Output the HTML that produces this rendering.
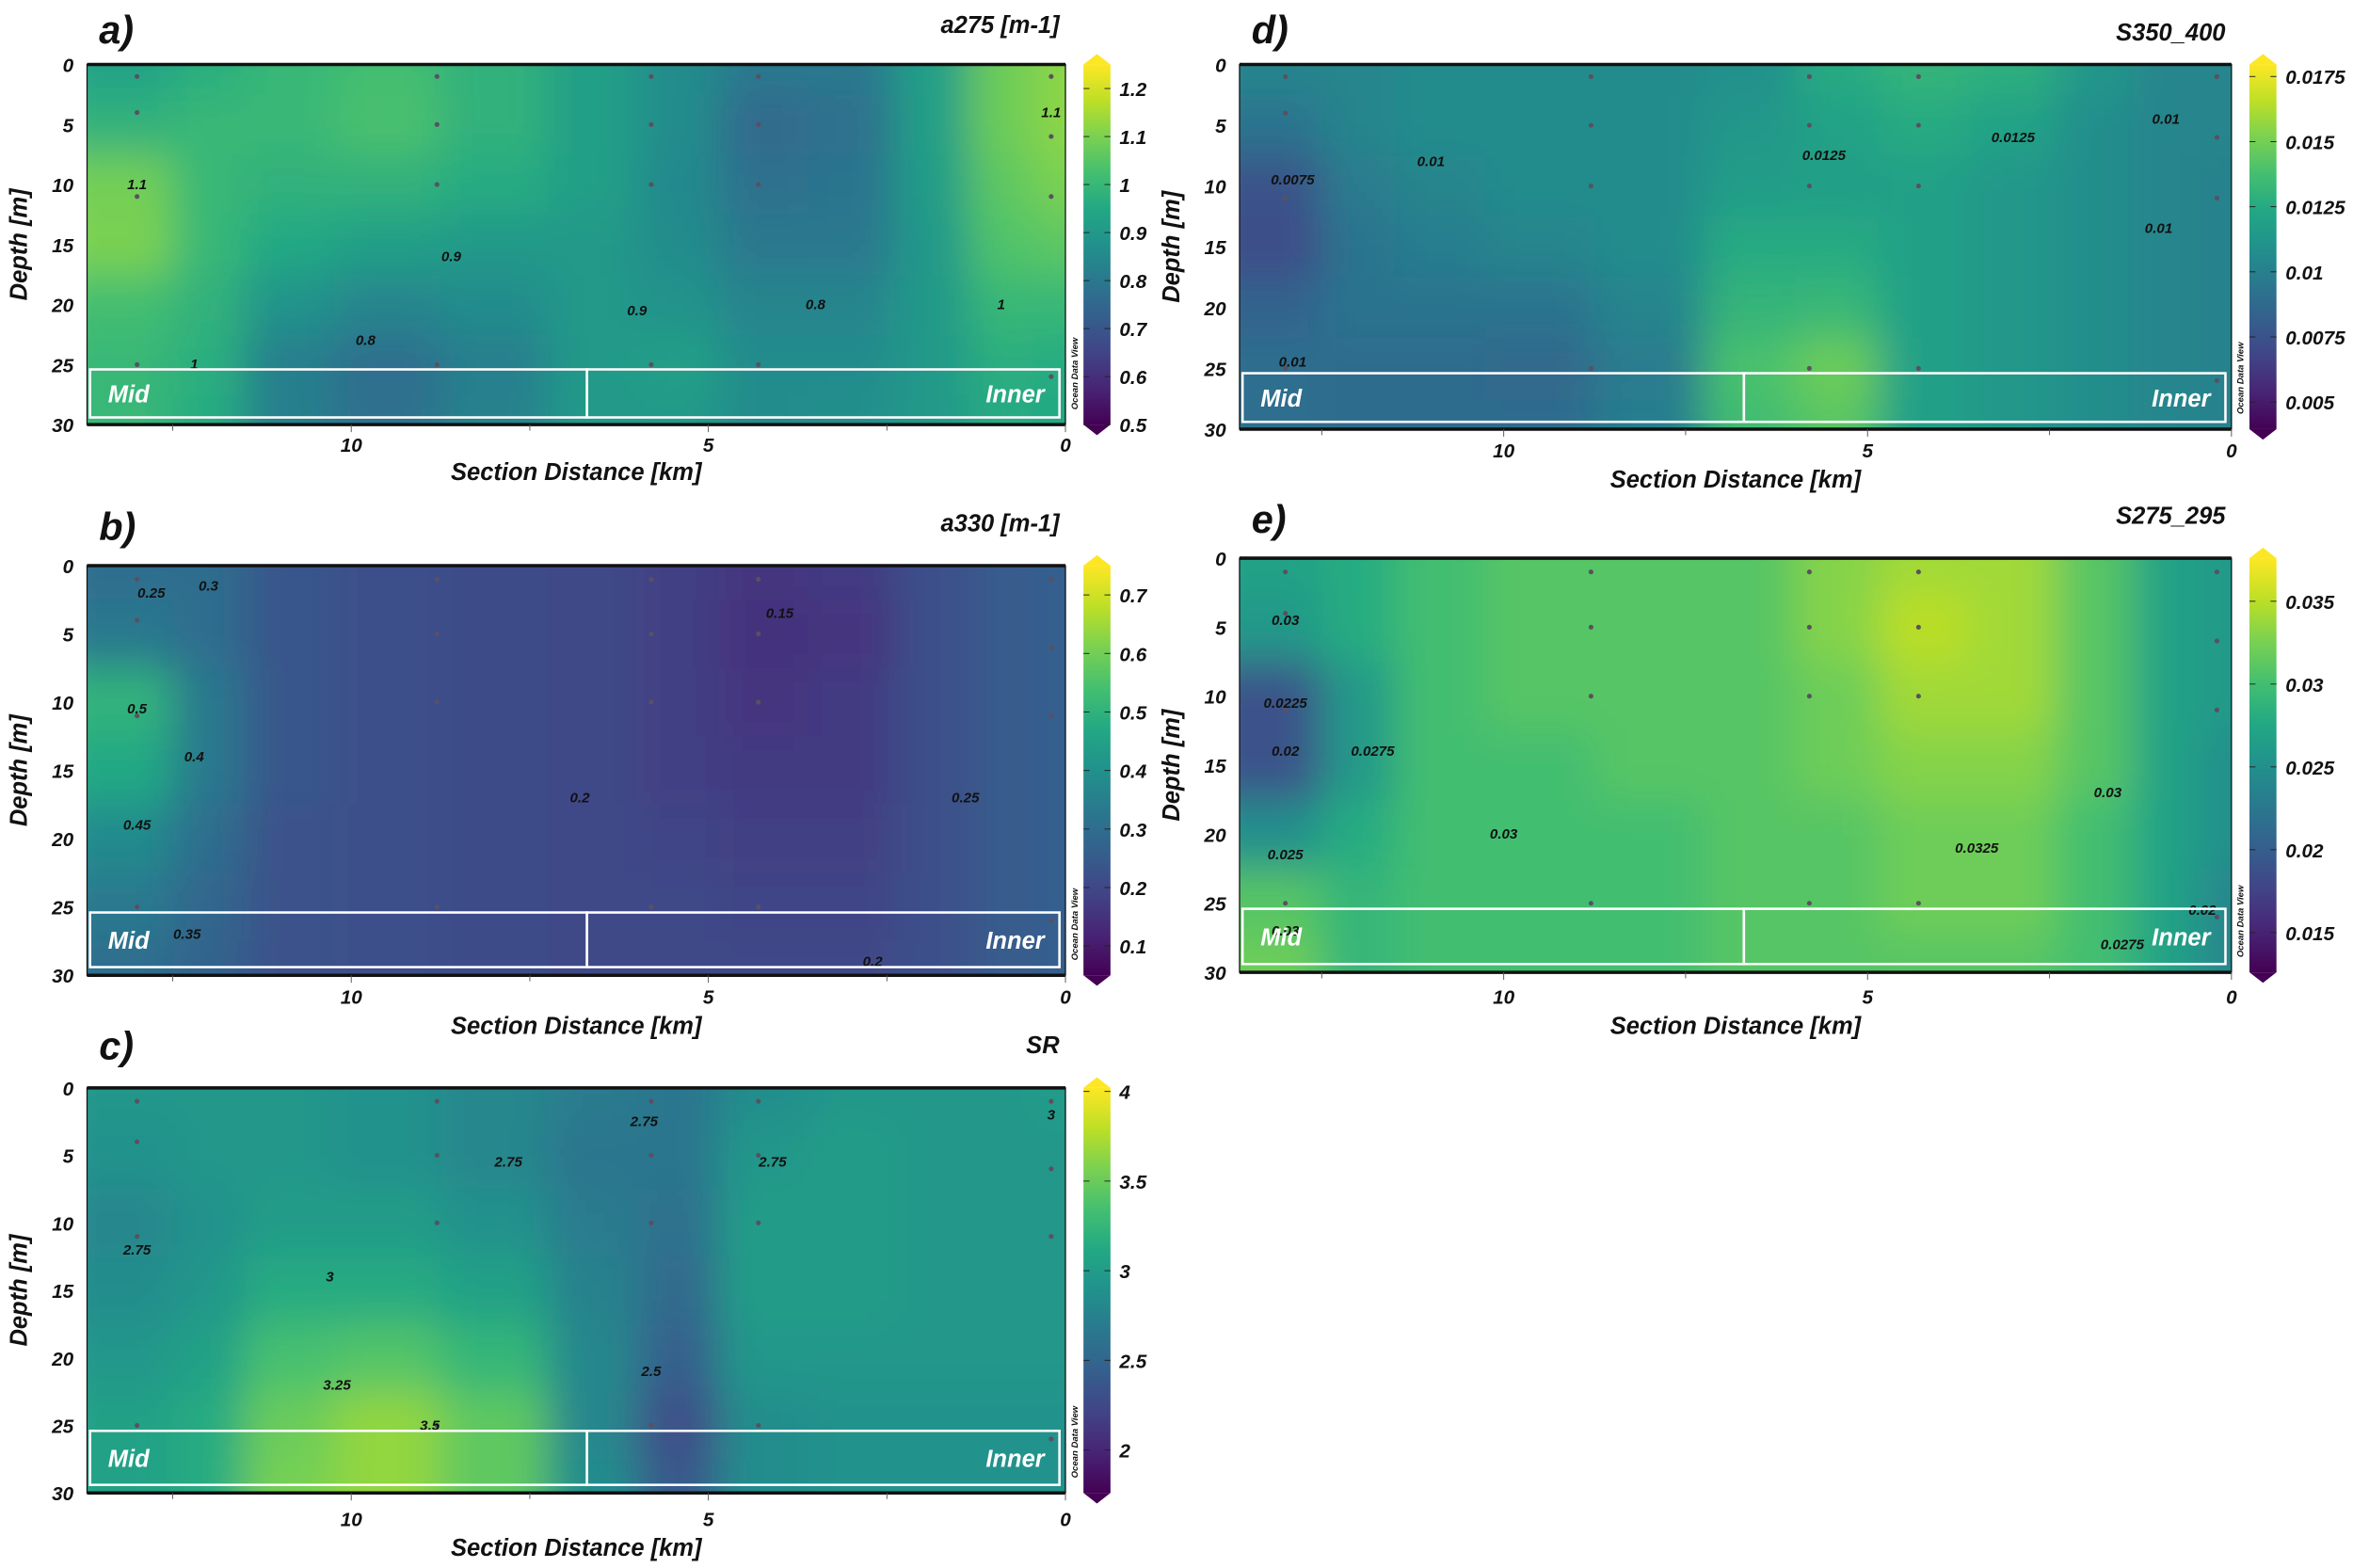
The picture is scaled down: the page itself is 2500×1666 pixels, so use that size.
<!DOCTYPE html>
<html><head><meta charset="utf-8">
<style>
html,body{margin:0;padding:0;background:#fff;}
svg{display:block;}
text{font-family:"Liberation Sans",sans-serif;font-weight:bold;font-style:italic;}
</style></head>
<body>
<svg id="fig" width="2500" height="1666" viewBox="0 0 1568 1045" preserveAspectRatio="none" xmlns="http://www.w3.org/2000/svg">
<defs>
<linearGradient id="vir" x1="0" y1="1" x2="0" y2="0">
<stop offset="0" stop-color="#440154"/><stop offset="0.1" stop-color="#482475"/><stop offset="0.2" stop-color="#414487"/><stop offset="0.3" stop-color="#355f8d"/><stop offset="0.4" stop-color="#2a788e"/><stop offset="0.5" stop-color="#21918c"/><stop offset="0.6" stop-color="#22a884"/><stop offset="0.7" stop-color="#44bf70"/><stop offset="0.8" stop-color="#7ad151"/><stop offset="0.9" stop-color="#bddf26"/><stop offset="1" stop-color="#fde725"/>
</linearGradient>
<filter id="blur" x="-10%" y="-10%" width="120%" height="120%"><feGaussianBlur stdDeviation="14"/></filter>
</defs>
</svg>
<script>
const colKm = [13.0, 12.0, 11, 9.5, 8, 6.5, 5.5, 4.2, 3, 1.8, 0.9, 0];
const rowDepth = [0, 5, 10, 15, 20, 25, 30];
const depthTicks = [0, 5, 10, 15, 20, 25, 30];
const kmTicks = [10, 5, 0];
const stationKm = [13.0, 8.8, 5.8, 4.3, 0.2];
const stationDepths = [[1,4,11,25],[1,5,10,25],[1,5,10,25],[1,5,10,25],[1,6,11,26]];

const valuesA = [
[0.93,0.97,1.0,1.02,0.98,0.92,0.86,0.80,0.80,0.92,1.08,1.12],
[0.98,1.0,1.0,1.03,0.98,0.92,0.86,0.76,0.78,0.92,1.08,1.12],
[1.09,1.0,0.98,0.98,0.96,0.92,0.85,0.78,0.79,0.91,1.06,1.1],
[1.1,1.0,0.95,0.92,0.9,0.9,0.86,0.80,0.80,0.9,1.04,1.06],
[1.02,0.98,0.88,0.84,0.86,0.9,0.88,0.84,0.84,0.9,1.0,1.0],
[1.0,0.97,0.82,0.77,0.82,0.9,0.92,0.86,0.86,0.9,0.97,0.96],
[1.0,0.96,0.82,0.78,0.83,0.9,0.9,0.86,0.87,0.9,0.96,0.95]];
const valuesB = [
[0.3,0.3,0.24,0.22,0.21,0.2,0.18,0.16,0.17,0.22,0.25,0.26],
[0.33,0.3,0.24,0.22,0.21,0.2,0.18,0.15,0.16,0.22,0.25,0.26],
[0.5,0.33,0.24,0.22,0.21,0.2,0.18,0.16,0.17,0.22,0.25,0.26],
[0.47,0.33,0.24,0.22,0.21,0.2,0.18,0.17,0.17,0.22,0.25,0.26],
[0.38,0.3,0.23,0.22,0.21,0.2,0.19,0.18,0.18,0.22,0.25,0.26],
[0.33,0.28,0.23,0.22,0.21,0.2,0.2,0.19,0.19,0.22,0.25,0.26],
[0.3,0.27,0.23,0.22,0.21,0.2,0.2,0.2,0.2,0.22,0.25,0.26]];
const valuesC = [
[2.95,2.95,2.95,2.9,2.8,2.7,2.65,2.85,2.95,2.95,2.95,3.0],
[2.9,2.95,2.95,2.9,2.8,2.65,2.65,2.95,3.0,2.95,2.95,2.95],
[2.8,2.9,3.0,3.0,2.9,2.7,2.6,3.0,3.0,2.95,2.95,2.95],
[2.85,2.95,3.15,3.15,3.05,2.75,2.55,3.0,3.0,2.95,2.95,2.95],
[2.95,3.05,3.35,3.4,3.25,2.8,2.45,2.95,2.95,2.95,2.95,2.95],
[3.05,3.15,3.5,3.65,3.45,2.8,2.3,2.85,2.9,2.9,2.9,2.9],
[3.05,3.15,3.55,3.65,3.45,2.85,2.4,2.85,2.9,2.9,2.9,2.9]];
const valuesD = [
[0.0103,0.0103,0.0107,0.0107,0.0107,0.0109,0.0125,0.0131,0.0128,0.0113,0.0103,0.0103],
[0.0093,0.0103,0.0107,0.0107,0.0107,0.0113,0.0120,0.0125,0.0120,0.0108,0.0103,0.0103],
[0.0075,0.0097,0.0103,0.0107,0.0107,0.0117,0.0118,0.0119,0.0113,0.0108,0.0103,0.0101],
[0.0073,0.0093,0.0099,0.0103,0.0107,0.0125,0.0125,0.0119,0.0113,0.0108,0.0103,0.0101],
[0.0084,0.0093,0.0093,0.0093,0.0103,0.0131,0.0133,0.0119,0.0113,0.0108,0.0103,0.0101],
[0.0090,0.0089,0.0089,0.0087,0.0097,0.0139,0.0148,0.0119,0.0113,0.0108,0.0103,0.0101],
[0.0090,0.0089,0.0089,0.0089,0.0099,0.0136,0.0143,0.0119,0.0113,0.0108,0.0103,0.0101]];
const valuesE = [
[0.027,0.028,0.03,0.031,0.031,0.031,0.033,0.034,0.034,0.031,0.027,0.026],
[0.026,0.028,0.03,0.031,0.031,0.031,0.033,0.035,0.034,0.031,0.027,0.026],
[0.019,0.026,0.03,0.031,0.031,0.031,0.032,0.034,0.034,0.031,0.027,0.026],
[0.019,0.026,0.03,0.03,0.031,0.031,0.032,0.033,0.033,0.031,0.027,0.025],
[0.025,0.028,0.03,0.03,0.03,0.031,0.031,0.032,0.032,0.03,0.027,0.025],
[0.031,0.029,0.03,0.03,0.03,0.031,0.031,0.032,0.032,0.03,0.027,0.024],
[0.032,0.029,0.03,0.03,0.03,0.031,0.031,0.031,0.031,0.03,0.027,0.024]];

const ticksA = ["1.2","1.1","1","0.9","0.8","0.7","0.6","0.5"];
const ticksB = ["0.7","0.6","0.5","0.4","0.3","0.2","0.1"];
const ticksC = ["4","3.5","3","2.5","2"];
const ticksD = ["0.0175","0.015","0.0125","0.01","0.0075","0.005"];
const ticksE = ["0.035","0.03","0.025","0.02","0.015"];

const labelsA = [["1.1",13.0,10],["1",12.2,25],["0.8",9.8,23],["0.9",8.6,16],["0.9",6.0,20.5],["0.8",3.5,20],["1",0.9,20],["1.1",0.2,4]];
const labelsB = [["0.25",12.8,2],["0.3",12.0,1.5],["0.5",13.0,10.5],["0.4",12.2,14],["0.45",13.0,19],["0.35",12.3,27],["0.15",4.0,3.5],["0.2",6.8,17],["0.2",2.7,29],["0.25",1.4,17]];
const labelsC = [["2.75",13.0,12],["2.75",7.8,5.5],["2.75",5.9,2.5],["2.75",4.1,5.5],["3",10.3,14],["3.25",10.2,22],["3.5",8.9,25],["2.5",5.8,21],["3",0.2,2]];
const labelsD = [["0.0075",12.9,9.5],["0.01",11.0,8],["0.01",12.9,24.5],["0.0125",5.6,7.5],["0.0125",3.0,6],["0.01",0.9,4.5],["0.01",1.0,13.5]];
const labelsE = [["0.03",13.0,4.5],["0.0225",13.0,10.5],["0.02",13.0,14],["0.025",13.0,21.5],["0.03",13.0,27],["0.0275",11.8,14],["0.03",10.0,20],["0.0325",3.5,21],["0.03",1.7,17],["0.0275",1.5,28],["0.02",0.4,25.5]];

const panels = [
 {key:'a',letter:'a)',title:'a275 [m-1]',vals:valuesA,ticks:ticksA,labels:labelsA,vmin:0.5,vmax:1.25,x0:58,x1:710,y0:43,y1:283,kmL:13.7,xtY:301,xlY:320,letY:29,titY:22},
 {key:'b',letter:'b)',title:'a330 [m-1]',vals:valuesB,ticks:ticksB,labels:labelsB,vmin:0.05,vmax:0.75,x0:58,x1:710,y0:377,y1:650,kmL:13.7,xtY:669,xlY:689,letY:360,titY:354},
 {key:'c',letter:'c)',title:'SR',vals:valuesC,ticks:ticksC,labels:labelsC,vmin:1.76,vmax:4.02,x0:58,x1:710,y0:725,y1:995,kmL:13.7,xtY:1017,xlY:1037,letY:706,titY:702},
 {key:'d',letter:'d)',title:'S350_400',vals:valuesD,ticks:ticksD,labels:labelsD,vmin:0.00396,vmax:0.01796,x0:826,x1:1487,y0:43,y1:286,kmL:13.63,xtY:305,xlY:325,letY:29,titY:27},
 {key:'e',letter:'e)',title:'S275_295',vals:valuesE,ticks:ticksE,labels:labelsE,vmin:0.0126,vmax:0.0376,x0:826,x1:1487,y0:372,y1:648,kmL:13.63,xtY:669,xlY:689,letY:355,titY:349}
];

const NS='http://www.w3.org/2000/svg';
const svg=document.getElementById('fig');
const V=[[0,'#440154'],[0.1,'#482475'],[0.2,'#414487'],[0.3,'#355f8d'],[0.4,'#2a788e'],[0.5,'#21918c'],[0.6,'#22a884'],[0.7,'#44bf70'],[0.8,'#7ad151'],[0.9,'#bddf26'],[1,'#fde725']];
function hex(h){return [1,3,5].map(i=>parseInt(h.substr(i,2),16));}
function viridis(t){t=Math.max(0,Math.min(1,t));for(let i=0;i<V.length-1;i++){if(t<=V[i+1][0]){const f=(t-V[i][0])/(V[i+1][0]-V[i][0]);const a=hex(V[i][1]),b=hex(V[i+1][1]);return 'rgb('+a.map((v,k)=>Math.round(v+(b[k]-v)*f)).join(',')+')';}}return V[10][1];}
function el(tag,attrs,parent){const e=document.createElementNS(NS,tag);for(const k in attrs)e.setAttribute(k,attrs[k]);(parent||svg).appendChild(e);return e;}
function txt(s,attrs,parent){const e=el('text',attrs,parent);e.textContent=s;return e;}

panels.forEach(p=>{
 const W=p.x1-p.x0,H=p.y1-p.y0;
 const xS=km=>p.x1-(km/p.kmL)*W;
 const yS=d=>p.y0+(d/30)*H;
 const cS=v=>(v-p.vmin)/(p.vmax-p.vmin);
 const g=el('g',{});
 
 
 const cp=el('clipPath',{id:'clip'+p.key},g);
 el('rect',{x:p.x0,y:p.y0,width:W,height:H},cp);
 const hm=el('g',{'clip-path':'url(#clip'+p.key+')'},g);
 
 
 const inner=el('g',{filter:'url(#blur)'},hm);
 const xs=colKm.map(xS), ys=rowDepth.map(yS);
 for(let r=0;r<rowDepth.length;r++){
  for(let c=0;c<colKm.length;c++){
   const left=c===0?xs[0]-60:(xs[c-1]+xs[c])/2;
   const right=c===colKm.length-1?xs[c]+40:(xs[c]+xs[c+1])/2;
   const top=r===0?ys[0]-40:(ys[r-1]+ys[r])/2;
   const bot=r===rowDepth.length-1?ys[r]+40:(ys[r]+ys[r+1])/2;
   const cell=el('rect',{x:left,y:top,width:right-left+0.5,height:bot-top+0.5,fill:viridis(cS(p.vals[r][c]))},inner);
   
   
  }
 }
 stationKm.forEach((k,i)=>stationDepths[i].forEach(d=>{
  const s=el('circle',{cx:xS(k),cy:yS(d),r:1.6,fill:'#5a5060'},g);
  
  
 }));
 p.labels.forEach(l=>{
  const t=txt(l[0],{x:xS(l[1]),y:yS(l[2])+3,'font-size':9.5,'text-anchor':'middle',fill:'#111'},g);
  
  
 });
 const bx0=p.x0+2,bx1=p.x1-4,by0=yS(25.4),by1=yS(29.4),bs=xS(6.7);
 const mid=el('rect',{x:bx0,y:by0,width:bs-bx0,height:by1-by0,fill:'none',stroke:'#fff','stroke-width':1.6},g);
 
 
 const inn=el('rect',{x:bs,y:by0,width:bx1-bs,height:by1-by0,fill:'none',stroke:'#fff','stroke-width':1.6},g);
 
 
 const tm=txt('Mid',{x:bx0+12,y:(by0+by1)/2+6,fill:'#fff','font-size':16},g);
 
 
 const ti=txt('Inner',{x:bx1-10,y:(by0+by1)/2+6,fill:'#fff','font-size':16,'text-anchor':'end'},g);
 
 
 const fr=el('rect',{x:p.x0,y:p.y0,width:W,height:H,fill:'none',stroke:'#111','stroke-width':0.8},g);
 
 
 el('line',{x1:p.x0,x2:p.x1,y1:p.y0,y2:p.y0,stroke:'#111','stroke-width':2.2},g);
 el('line',{x1:p.x0,x2:p.x1,y1:p.y1,y2:p.y1,stroke:'#111','stroke-width':2.2},g);
 depthTicks.forEach(d=>{
  const t=txt(String(d),{x:p.x0-9,y:yS(d)+5,'font-size':13,'text-anchor':'end',fill:'#111'},g);
  
  
 });
 [2.5,7.5,12.5].forEach(k=>el('line',{x1:xS(k),x2:xS(k),y1:p.y1,y2:p.y1+4,stroke:'#555','stroke-width':0.6},g));
 kmTicks.forEach(k=>{
  el('line',{x1:xS(k),x2:xS(k),y1:p.y1,y2:p.y1+5,stroke:'#555','stroke-width':0.6},g);
  const t=txt(String(k),{x:xS(k),y:p.xtY,'font-size':13,'text-anchor':'middle',fill:'#111'},g);
  
  
 });
 const xl=txt('Section Distance [km]',{x:(p.x0+p.x1)/2,y:p.xlY,'font-size':16,'text-anchor':'middle',fill:'#111'},g);
 
 
 const yx=p.x0-40,yy=(p.y0+p.y1)/2;
 const yl=txt('Depth [m]',{x:yx,y:yy,'font-size':16,'text-anchor':'middle',fill:'#111',transform:'rotate(-90 '+yx+' '+yy+')'},g);
 
 
 const lt=txt(p.letter,{x:p.x0+8,y:p.letY,'font-size':26,fill:'#111','font-style':'normal'},g);
 
 
 const tt=txt(p.title,{x:p.x1-4,y:p.titY,'font-size':16,'text-anchor':'end',fill:'#111'},g);
 
 
 const cx=p.x1+12,cw=18;
 const cb=el('g',{},g);
 
 
 el('rect',{x:cx,y:p.y0,width:cw,height:H,fill:'url(#vir)'},cb);
 el('polygon',{points:cx+','+p.y0+' '+(cx+cw/2)+','+(p.y0-7)+' '+(cx+cw)+','+p.y0,fill:'#fde725'},cb);
 el('polygon',{points:cx+','+p.y1+' '+(cx+cw/2)+','+(p.y1+7)+' '+(cx+cw)+','+p.y1,fill:'#440154'},cb);
 p.ticks.forEach(s=>{
  const v=parseFloat(s);
  const y=p.y1-cS(v)*H;
  el('line',{x1:cx,x2:cx+4,y1:y,y2:y,stroke:'#222','stroke-width':0.6},cb);
  el('line',{x1:cx+cw-4,x2:cx+cw,y1:y,y2:y,stroke:'#222','stroke-width':0.6},cb);
  const t=txt(s,{x:cx+cw+6,y:y+5,'font-size':13,fill:'#111','font-style':'normal'},cb);
  
  
 });
 const ox=p.x1+8,oy=p.y1-34;
 const od=txt('Ocean Data View',{x:ox,y:oy,'font-size':6,'text-anchor':'middle',fill:'#111','font-style':'normal',transform:'rotate(-90 '+ox+' '+oy+')'},g);
 
 
});
</script>
</body></html>
